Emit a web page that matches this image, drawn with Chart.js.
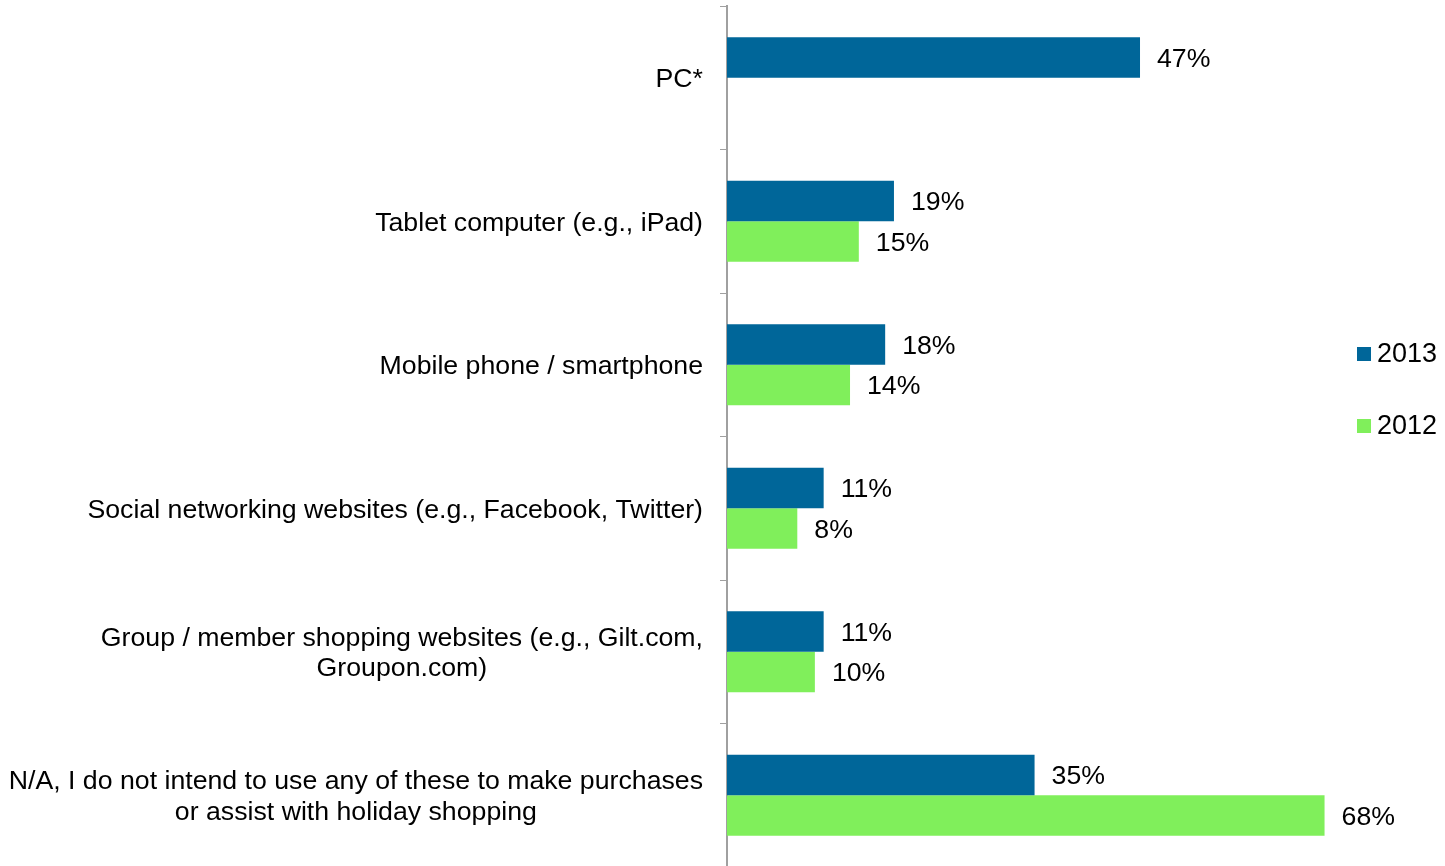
<!DOCTYPE html>
<html>
<head>
<meta charset="utf-8">
<script src="https://cdn.jsdelivr.net/npm/chart.js@4.4.1/dist/chart.umd.min.js"></script>
<style>
  html, body { margin: 0; padding: 0; background: #fff; }
  #wrap { position: relative; width: 1445px; height: 866px; overflow: hidden; }
  #legend { position: absolute; left: 1357px; top: 338px; font: 27px "Liberation Sans", Arial, sans-serif; color: #000; }
  #legend div { height: 72px; display: flex; align-items: flex-start; }
  #legend span.box { display: inline-block; width: 14px; height: 14px; margin: 9px 6px 0 0; }
</style>
</head>
<body>
<div id="wrap">
  <canvas id="chart" width="1445" height="867"></canvas>
  <div id="legend"></div>
</div>
<script>
const categories = [
  ['PC*'],
  ['Tablet computer (e.g., iPad)'],
  ['Mobile phone / smartphone'],
  ['Social networking websites (e.g., Facebook, Twitter)'],
  ['Group / member shopping websites (e.g., Gilt.com,', 'Groupon.com)'],
  ['N/A, I do not intend to use any of these to make purchases', 'or assist with holiday shopping']
];
const values2013 = [47, 19, 18, 11, 11, 35];
const values2012 = [null, 15, 14, 8, 10, 68];

const FONT = '"Liberation Sans", Arial, sans-serif';

// percentage text just past the end of each bar
const valueLabels = {
  id: 'valueLabels',
  afterDatasetsDraw(chart) {
    const ctx = chart.ctx;
    ctx.save();
    ctx.font = '26.7px ' + FONT;
    ctx.fillStyle = '#000';
    ctx.textAlign = 'left';
    ctx.textBaseline = 'middle';
    chart.data.datasets.forEach((ds, i) => {
      chart.getDatasetMeta(i).data.forEach((bar, j) => {
        const v = ds.data[j];
        if (v === null) return;
        ctx.fillText(v + '%', bar.x + 17, bar.y + 2);
      });
    });
    ctx.restore();
  }
};

// category names: block right-aligned to the axis, lines centred within it
const categoryLabels = {
  id: 'categoryLabels',
  afterDraw(chart) {
    const ctx = chart.ctx;
    const y = chart.scales.y;
    const right = 703, lh = 30.5;
    ctx.save();
    ctx.font = '26.7px ' + FONT;
    ctx.fillStyle = '#000';
    ctx.textAlign = 'center';
    ctx.textBaseline = 'middle';
    categories.forEach((lines, i) => {
      const cy = y.getPixelForValue(i) + 2;
      const w = Math.max(...lines.map(l => ctx.measureText(l).width));
      const cx = right - w / 2;
      const y0 = cy - (lines.length - 1) * lh / 2;
      lines.forEach((l, k) => ctx.fillText(l, cx, y0 + k * lh));
    });
    ctx.restore();
  }
};

const chart = new Chart(document.getElementById('chart'), {
  type: 'bar',
  data: {
    labels: categories.map(c => c.join(' ')),
    datasets: [
      { label: '2013', data: values2013, backgroundColor: '#006699' },
      { label: '2012', data: values2012, backgroundColor: '#80EF5B' }
    ]
  },
  options: {
    indexAxis: 'y',
    responsive: false,
    animation: false,
    layout: { padding: { top: 6, right: 15, bottom: 0, left: 0 } },
    datasets: { bar: { barPercentage: 1, categoryPercentage: 0.565 } },
    scales: {
      x: { display: false, min: 0, max: 80 },
      y: {
        ticks: { display: false },
        grid: { offset: true, drawOnChartArea: false, drawTicks: true, tickLength: 7, color: '#A0A0A0', lineWidth: 1 },
        border: { color: '#A0A0A0', width: 2 },
        afterFit(s) { s.width = 727; }
      }
    },
    plugins: { legend: { display: false }, tooltip: { enabled: false } }
  },
  plugins: [valueLabels, categoryLabels]
});

document.getElementById('legend').innerHTML = chart.data.datasets.map(ds =>
  '<div><span class="box" style="background:' + ds.backgroundColor + '"></span>' + ds.label + '</div>'
).join('');
</script>
</body>
</html>
